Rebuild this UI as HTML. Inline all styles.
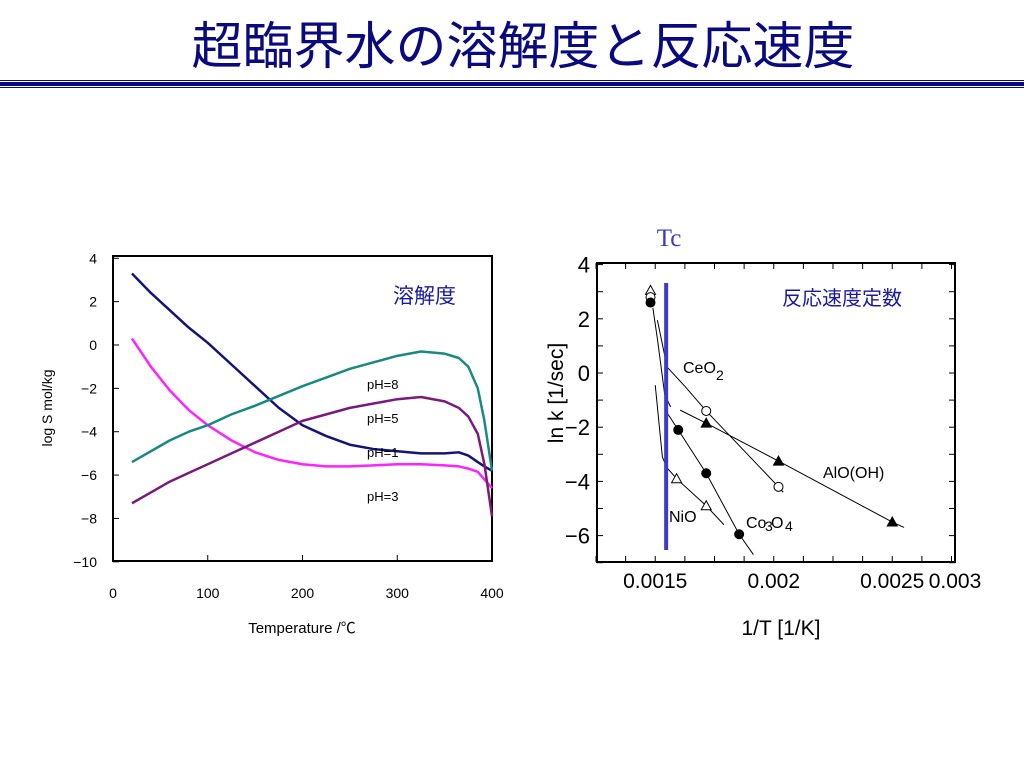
<!DOCTYPE html>
<html><head><meta charset="utf-8"><style>
body{margin:0;background:#fff;width:1024px;height:768px;overflow:hidden}
svg{display:block}
text{font-family:"Liberation Sans","Noto Sans CJK JP",sans-serif}
</style></head><body>
<svg id="s" width="1024" height="768">
<text x="523" y="64" font-size="51" fill="#0a0a80" text-anchor="middle">超臨界水の溶解度と反応速度</text>
<line x1="0" y1="80.5" x2="1024" y2="80.5" stroke="#0a0a80" stroke-width="1"/>
<rect x="0" y="82" width="1024" height="4" fill="#0a0a80"/>
<line x1="0" y1="87.5" x2="1024" y2="87.5" stroke="#0a0a80" stroke-width="1"/>
<g id="left"></g>
<g id="right"></g>
</svg>
<script>
const NS="http://www.w3.org/2000/svg";
// Left chart data
const solT=[20,40,60,80,100,125,150,175,200,225,250,275,300,325,350,365,375,385,392,400];
const pH1=[3.3,2.4,1.6,0.8,0.1,-0.9,-1.9,-2.9,-3.7,-4.2,-4.6,-4.8,-4.9,-5.0,-5.0,-4.95,-5.1,-5.4,-5.6,-5.8];
const pH3=[0.3,-1.0,-2.1,-3.0,-3.7,-4.4,-4.95,-5.3,-5.5,-5.6,-5.6,-5.55,-5.5,-5.5,-5.55,-5.6,-5.7,-5.85,-6.2,-6.6];
const pH8=[-5.4,-4.9,-4.4,-4.0,-3.7,-3.2,-2.8,-2.35,-1.9,-1.5,-1.1,-0.8,-0.5,-0.3,-0.4,-0.6,-1.0,-2.0,-3.5,-5.8];
const pH5=[-7.3,-6.8,-6.3,-5.9,-5.5,-5.0,-4.5,-4.0,-3.5,-3.2,-2.9,-2.7,-2.5,-2.4,-2.6,-2.9,-3.3,-4.1,-5.5,-7.9];
const solYTicks=[4,2,0,-2,-4,-6,-8,-10];
const solXTicks=[0,100,200,300,400];
// Right chart data (x in 1/T ×1e-3)
const ceX=[1.715,2.02],ceY=[-1.4,-4.2];
const ceLineX=[1.509,1.55,1.626,1.715,2.02,2.04],ceLineY=[1.95,0.22,-0.5,-1.4,-4.2,-4.4];
const alX=[1.715,2.02,2.5],alY=[-1.85,-3.25,-5.5];
const alLineX=[1.605,1.715,2.02,2.5,2.55],alLineY=[-1.37,-1.85,-3.25,-5.5,-5.7];
const coX=[1.48,1.597,1.715,1.854],coY=[2.6,-2.1,-3.7,-5.95];
const coLineX=[1.55,1.597,1.715,1.854,1.914],coLineY=[-1.47,-2.1,-3.7,-5.95,-6.7];
const niX=[1.59,1.715],niY=[-3.9,-4.9];
const niLineX=[1.5,1.53,1.55,1.59,1.715,1.79],niLineY=[-0.45,-3.1,-3.5,-3.9,-4.9,-5.6];
const topCurveX=[1.49,1.51,1.54,1.565],topCurveY=[2.4,1.2,-0.8,-1.25];
const extraX=[1.48,1.48],extraY=[3.05,2.8];
const rateYTicks=[4,2,0,-2,-4,-6];
const rateXTicks=["0.0015","0.002","0.0025","0.003"];
const TcX=1.546;

function el(p,t,a,txt){const e=document.createElementNS(NS,t);for(const k in a)e.setAttribute(k,a[k]);if(txt!=null)e.textContent=txt;p.appendChild(e);return e;}
// Left
const L=document.getElementById('left');
const lx=v=>113+(v/400)*379, ly=v=>345-21.68*v;
let r=el(L,'rect',{x:113,y:256,width:379,height:305,fill:'none',stroke:'#000','stroke-width':2});

solYTicks.forEach(v=>{let t=el(L,'text',{x:97,y:ly(v)+5,'font-size':14,'text-anchor':'end'},v<0?'−'+(-v):v);

let l=el(L,'line',{x1:113,x2:119,y1:ly(v),y2:ly(v),stroke:'#000'});});
solXTicks.forEach(v=>{let t=el(L,'text',{x:lx(v),y:598,'font-size':14,'text-anchor':'middle'},v);

let l=el(L,'line',{x1:lx(v),x2:lx(v),y1:561,y2:555,stroke:'#000'});});
[[pH1,'#141478','ph1-line'],[pH3,'#ff22ff','ph3-line'],[pH8,'#1a8a80','ph8-line'],[pH5,'#7a1a7a','ph5-line']].forEach(([d,c,n])=>{
let p=el(L,'polyline',{points:solT.map((t,i)=>lx(t)+','+ly(d[i])).join(' '),fill:'none',stroke:c,'stroke-width':2.5,'stroke-linejoin':'round'});
});
[['pH=8',389],['pH=5',423],['pH=1',457],['pH=3',501]].forEach(([s,y])=>{let t=el(L,'text',{x:367,y:y,'font-size':13},s);});
let t1=el(L,'text',{x:393,y:303,'font-size':21,fill:'#1a1aa0'},'溶解度');
let t2=el(L,'text',{x:0,y:0,'font-size':14,transform:'translate(52,408) rotate(-90)','text-anchor':'middle'},'log S mol/kg');
let t3=el(L,'text',{x:302,y:633,'font-size':15,'text-anchor':'middle'},'Temperature /℃');
// Right
const R=document.getElementById('right');
const rx=v=>596+(v-1.25)*237, ry=v=>373-27.1*v;
r=el(R,'rect',{x:597,y:263,width:358,height:299,fill:'none',stroke:'#000','stroke-width':2});

for(let v=-7;v<=4.01;v+=1){[[597,603],[949,955]].forEach(([a,b])=>{let l=el(R,'line',{x1:a,x2:b,y1:ry(v),y2:ry(v),stroke:'#000'});});}
for(let v=1.25;v<=2.76;v+=0.125){[[562,556],[263,269]].forEach(([a,b])=>{let l=el(R,'line',{x1:rx(v),x2:rx(v),y1:a,y2:b,stroke:'#000'});});}
rateYTicks.forEach(v=>{let t=el(R,'text',{x:590,y:ry(v)+8,'font-size':22,'text-anchor':'end'},v<0?'−'+(-v):v);});
rateXTicks.forEach(s=>{let t=el(R,'text',{x:Math.min(955,rx(parseFloat(s)*1000)),y:588,'font-size':21,'text-anchor':'middle'},s);});
function line(xs,ys,n){let p=el(R,'polyline',{points:xs.map((x,i)=>rx(x)+','+ry(ys[i])).join(' '),fill:'none',stroke:'#000','stroke-width':1});}
line(ceLineX,ceLineY,'ceo2-line');line(alLineX,alLineY,'aloh-line');line(coLineX,coLineY,'co3o4-line');line(niLineX,niLineY,'nio-line');line(topCurveX,topCurveY,'near-critical-curve');
function tri(x,y,fill,n){let cx=rx(x),cy=ry(y);let p=el(R,'polygon',{points:`${cx},${cy-5} ${cx-5},${cy+4} ${cx+5},${cy+4}`,fill:fill,stroke:'#000'});}
function circ(x,y,fill,n){let c=el(R,'circle',{cx:rx(x),cy:ry(y),r:4.5,fill:fill,stroke:'#000'});}
tri(extraX[0],extraY[0],'#fff','nio-point');circ(extraX[1],extraY[1],'#fff','ceo2-point');
ceX.forEach((x,i)=>circ(x,ceY[i],'#fff','ceo2-point'));
alX.forEach((x,i)=>tri(x,alY[i],'#000','aloh-point'));
coX.forEach((x,i)=>circ(x,coY[i],'#000','co3o4-point'));
niX.forEach((x,i)=>tri(x,niY[i],'#fff','nio-point'));
let tc=el(R,'line',{x1:rx(TcX),x2:rx(TcX),y1:283,y2:550,stroke:'#3a3acc','stroke-width':4});
let tct=el(R,'text',{x:669,y:246,'font-size':25,fill:'#3a3acc',style:'font-family:"Liberation Serif",serif','text-anchor':'middle'},'Tc');
[['CeO',683,373,16],['2',716,380,14],['AlO(OH)',823,478,16],['NiO',669,522,16],['Co',746,528,16],['3',765,531,14],['O',771,528,16],['4',785,531,14]].forEach(([s,x,y,f])=>{let t=el(R,'text',{x:x,y:y,'font-size':f},s);});
let rl=el(R,'text',{x:782,y:305,'font-size':20,fill:'#1a1aa0'},'反応速度定数');
let ry1=el(R,'text',{x:0,y:0,'font-size':21,transform:'translate(563,393) rotate(-90)','text-anchor':'middle'},'ln k [1/sec]');
let rx1=el(R,'text',{x:781,y:635,'font-size':21,'text-anchor':'middle'},'1/T [1/K]');
</script>
</body></html>
